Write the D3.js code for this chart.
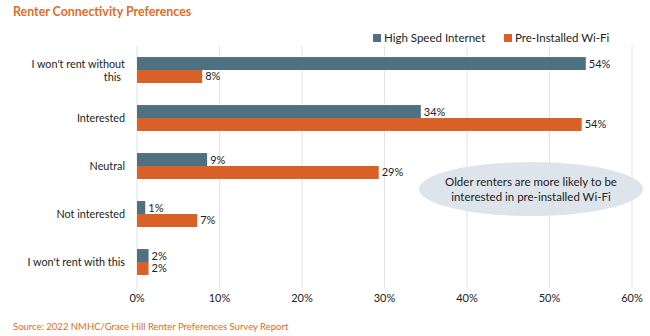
<!DOCTYPE html>
<html>
<head>
<meta charset="utf-8">
<script src="https://cdn.jsdelivr.net/npm/d3@7"></script>
<style>
  body { margin: 0; background: #fff; }
  text { font-family: Lato, "Open Sans", sans-serif; fill: #222; }
</style>
</head>
<body>
<div id="chart"></div>
<script>
// data
var categories = ["I won't rent without this", "Interested", "Neutral", "Not interested", "I won't rent with this"];
var seriesNames = ["High Speed Internet", "Pre-Installed Wi-Fi"];
var highSpeed = [54.4, 34.4, 8.5, 1.0, 1.4];
var wifi = [7.9, 53.9, 29.3, 7.3, 1.4];
var pctLabelsHigh = ["54%", "34%", "9%", "1%", "2%"];
var pctLabelsWifi = ["8%", "54%", "29%", "7%", "2%"];
var xTicks = [0, 10, 20, 30, 40, 50, 60];

const W = 650, H = 336;
const colors = ["#4E7181", "#D96127"];
const margin = {left: 137, right: 18, top: 46, bottom: 50};

var svg = d3.select('#chart').append('svg')
            .attr('width', W)
            .attr('height', H);

var x = d3.scaleLinear().domain([0, 60]).range([margin.left, W - margin.right]);
var y = d3.scaleBand().domain(categories).range([margin.top, H - margin.bottom]).paddingInner(0.46).paddingOuter(0.23);

// title
svg.append('text')
   .attr('x', 13).attr('y', 16)
   .style('font-size', '12.4px').style('font-weight', 'bold')
   .style('fill', '#E36C25')
   .text('Renter Connectivity Preferences');

// gridlines
svg.append('g').selectAll('line').data(xTicks).enter()
   .append('line')
   .attr('x1', d => x(d)).attr('x2', d => x(d))
   .attr('y1', margin.top).attr('y2', H - margin.bottom + 2)
   .style('stroke', '#e3e3e3').style('stroke-width', 1);

// x axis labels
svg.append('g').selectAll('text').data(xTicks).enter()
   .append('text')
   .attr('x', d => x(d)).attr('y', 302)
   .attr('text-anchor', 'middle')
   .style('font-size', '11px')
   .text(d => d + '%');

// category labels
var cats = svg.append('g').selectAll('text').data(categories).enter()
              .append('text')
              .attr('text-anchor', 'end')
              .attr('x', 125)
              .attr('y', d => y(d) + y.bandwidth() / 2 + 4)
              .style('font-size', '10.8px');
cats.each(function(d) {
  var t = d3.select(this);
  if (d === "I won't rent without this") {
    t.append('tspan').attr('x', 125).attr('dy', -6.5).text("I won't rent without");
    t.append('tspan').attr('x', 121).attr('dy', 13).text("this");
  } else {
    t.text(d);
  }
});

var barH = y.bandwidth() / 2;
var series = [highSpeed, wifi];
var labels = [pctLabelsHigh, pctLabelsWifi];

series.forEach(function(vals, s) {
  var g = svg.append('g');
  g.selectAll('rect').data(vals).enter()
   .append('rect')
   .attr('x', x(0))
   .attr('y', (d, i) => y(categories[i]) + s * barH)
   .attr('width', d => x(d) - x(0))
   .attr('height', barH)
   .style('fill', colors[s]);
  g.selectAll('text').data(vals).enter()
   .append('text')
   .attr('x', d => x(d) + 3)
   .attr('y', (d, i) => y(categories[i]) + s * barH + barH / 2 + 4)
   .style('font-size', '11px')
   .text((d, i) => labels[s][i]);
});

// legend
var legendX = [373, 504];
seriesNames.forEach(function(name, s) {
  svg.append('rect')
     .attr('x', legendX[s]).attr('y', 34)
     .attr('width', 8).attr('height', 8)
     .style('fill', colors[s]);
  svg.append('text')
     .attr('x', legendX[s] + 11).attr('y', 42)
     .style('font-size', '11.5px')
     .text(name);
});

// callout
svg.append('ellipse')
   .attr('cx', 531).attr('cy', 189)
   .attr('rx', 112).attr('ry', 27)
   .style('fill', '#DDE4EB');
svg.append('text')
   .attr('x', 531).attr('y', 186)
   .attr('text-anchor', 'middle')
   .style('font-size', '11.5px')
   .text('Older renters are more likely to be');
svg.append('text')
   .attr('x', 531).attr('y', 201)
   .attr('text-anchor', 'middle')
   .style('font-size', '11.5px')
   .text('interested in pre-installed Wi-Fi');

// source
svg.append('text')
   .attr('x', 13).attr('y', 330)
   .style('font-size', '9.5px')
   .style('fill', '#E36C25')
   .text('Source: 2022 NMHC/Grace Hill Renter Preferences Survey Report');
</script>
</body>
</html>
